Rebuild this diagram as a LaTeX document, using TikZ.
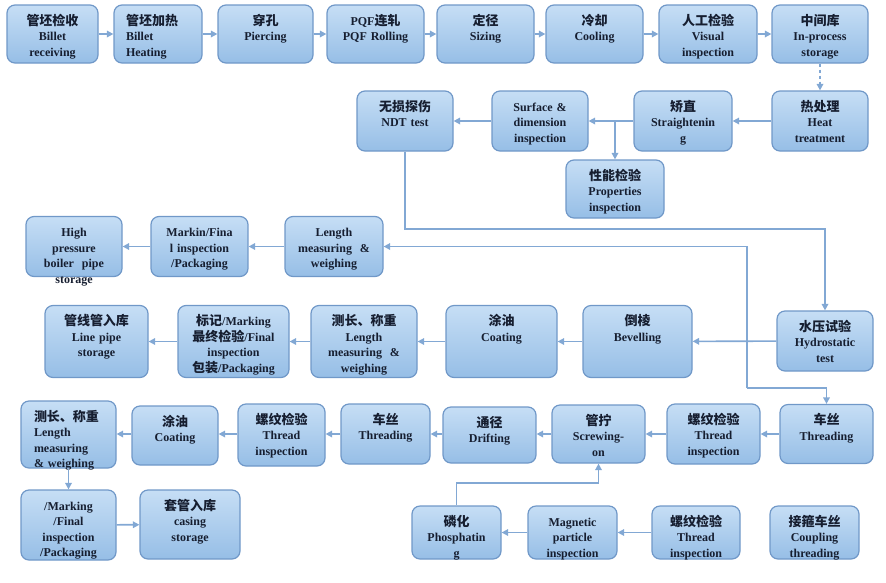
\documentclass[tikz,border=0pt]{standalone}
\usepackage{fontspec}
\setmainfont{Liberation Serif}
\newfontfamily\cjk{Noto Sans CJK SC}
\newcommand{\zh}[1]{{\cjk\fontsize{13}{15.5}\selectfont #1}}
\usetikzlibrary{arrows.meta}
\definecolor{boxtop}{RGB}{198,222,245}
\definecolor{boxbot}{RGB}{150,190,230}
\definecolor{boxline}{RGB}{112,152,200}
\definecolor{flowline}{RGB}{130,168,212}
\definecolor{boxtext}{RGB}{22,30,48}

\begin{document}
\begin{tikzpicture}[x=1pt, y=-1pt,
    stagebox/.style={draw=boxline, line width=1.2pt, rounded corners=8pt, top color=boxtop, bottom color=boxbot,
        inner sep=0pt, align=center, text=boxtext, text height=20pt, font=\fontsize{12}{15.5}\selectfont\bfseries},
    sz/.style 2 args={text width=#1pt, text depth=#2pt-20pt},
    flow/.style={draw=flowline, line width=1.6pt, -{Triangle[length=6.5pt,width=6.5pt]}}]
        \useasboundingbox (0,0) rectangle (886,582);

        \node[stagebox, sz={91}{58}] (br) at (52.5,34) {\zh{管坯检收}\\Billet\\receiving};
        \node[stagebox, align=left, inner xsep=12pt, sz={64}{58}] (bh) at (158,34) {\zh{管坯加热}\\Billet\\Heating};
        \node[stagebox, sz={95}{58}] (pc) at (265.5,34) {\zh{穿孔}\\Piercing};
        \node[stagebox, sz={97}{58}] (pqf) at (375.5,34) {PQF\zh{连轧}\\PQF Rolling};
        \node[stagebox, sz={97}{58}] (sz) at (485.5,34) {\zh{定径}\\Sizing};
        \node[stagebox, sz={97}{58}] (cl) at (594.5,34) {\zh{冷却}\\Cooling};
        \node[stagebox, sz={98}{58}] (vi) at (708,34) {\zh{人工检验}\\Visual\\inspection};
        \node[stagebox, sz={96}{58}] (ip) at (820,34) {\zh{中间库}\\In-process\\storage};

        \node[stagebox, sz={96}{60}] (ht) at (820,121) {\zh{热处理}\\Heat\\treatment};
        \node[stagebox, sz={98}{60}] (st) at (683,121) {\zh{矫直}\\Straightenin\\g};
        \node[stagebox, sz={96}{60}] (sd) at (540,121) {Surface \&\\dimension\\inspection};
        \node[stagebox, sz={96}{60}] (ndt) at (405,121) {\zh{无损探伤}\\NDT test};
        \node[stagebox, sz={98}{58}] (pr) at (615,189) {\zh{性能检验}\\Properties\\inspection};

        \node[stagebox, sz={98}{60}] (lm) at (334,246.5) {Length\\measuring \ \&\\weighing};
        \node[stagebox, sz={97}{60}] (mk) at (199.5,246.5) {Markin/Fina\\l inspection\\/Packaging};
        \node[stagebox, sz={96}{60}] (hp) at (74,246.5) {High\\pressure\\boiler \ pipe\\storage};

        \node[stagebox, sz={96}{60}] (hy) at (825,341) {\zh{水压试验}\\Hydrostatic\\test};
        \node[stagebox, sz={109}{72}] (bv) at (637.5,341.5) {\zh{倒棱}\\Bevelling};
        \node[stagebox, sz={111}{72}] (ct) at (501.5,341.5) {\zh{涂油}\\Coating};
        \node[stagebox, sz={106}{72}] (lm2) at (364,341.5) {\zh{测长、称重}\\Length\\measuring \ \&\\weighing};
        \node[stagebox, sz={111}{72}] (mf) at (233.5,341.5) {\zh{标记}/Marking\\\zh{最终检验}/Final\\inspection\\\zh{包装}/Packaging};
        \node[stagebox, sz={103}{72}] (lp) at (96.5,341.5) {\zh{管线管入库}\\Line pipe\\storage};

        \node[stagebox, sz={93}{59}] (th4) at (826.5,434) {\zh{车丝}\\Threading};
        \node[stagebox, sz={93}{60}] (ti4) at (713.5,434) {\zh{螺纹检验}\\Thread\\inspection};
        \node[stagebox, sz={93}{58}] (sc) at (598.5,434) {\zh{管拧}\\Screwing-\\on};
        \node[stagebox, sz={93}{56}] (dr) at (489.5,435) {\zh{通径}\\Drifting};
        \node[stagebox, sz={89}{60}] (th3) at (385.5,434) {\zh{车丝}\\Threading};
        \node[stagebox, sz={87}{62}] (ti3) at (281.5,435) {\zh{螺纹检验}\\Thread\\inspection};
        \node[stagebox, sz={86}{59}] (ct3) at (175,435.5) {\zh{涂油}\\Coating};
        \node[stagebox, align=left, inner xsep=13pt, sz={69}{67}] (lm3) at (68.5,434.5) {\zh{测长、称重}\\Length\\measuring\\\& weighing};

        \node[stagebox, sz={95}{70}] (mf3) at (68.5,525) {/Marking\\/Final\\inspection\\/Packaging};
        \node[stagebox, sz={100}{69}] (cs) at (190,524.5) {\zh{套管入库}\\casing\\storage};
        \node[stagebox, sz={89}{53}] (ph) at (456.5,532.5) {\zh{磷化}\\Phosphatin\\g};
        \node[stagebox, sz={89}{53}] (mp) at (572.5,532.5) {Magnetic\\particle\\inspection};
        \node[stagebox, sz={88}{53}] (ti5) at (696,532.5) {\zh{螺纹检验}\\Thread\\inspection};
        \node[stagebox, sz={89}{53}] (cp) at (814.5,532.5) {\zh{接箍车丝}\\Coupling\\threading};

        \coordinate (ndtturn) at (405,229);
        \coordinate (split) at (747,388);
        \coordinate (phturn) at (456.5,483);

        \draw[flow] (br) -- (bh);
        \draw[flow] (bh) -- (pc);
        \draw[flow] (pc) -- (pqf);
        \draw[flow] (pqf) -- (sz);
        \draw[flow] (sz) -- (cl);
        \draw[flow] (cl) -- (vi);
        \draw[flow] (vi) -- (ip);
        \draw[flow, dashed] (ip) -- (ht);

        \draw[flow] (ht) -- (st);
        \draw[flow] (st) -- (sd);
        \draw[flow] (sd) -- (ndt);
        \draw[flow] (pr.north |- st.west) -- (pr.north);
        \draw[flow] (ndt.south) -- (ndtturn) -| (hy.north);

        \draw[flow] (hy) -- (bv);
        \draw[flow] (bv) -- (ct);
        \draw[flow] (ct) -- (lm2);
        \draw[flow] (lm2) -- (mf);
        \draw[flow] (mf) -- (lp);

        \draw[flow] (split) |- (lm.east);
        \draw[flow] (split) -| (th4.north);
        \draw[flow] (lm) -- (mk);
        \draw[flow] (mk) -- (hp);

        \draw[flow] (th4.west) -- (ti4.east |- th4.west);
        \draw[flow] (ti4.west) -- (sc.east |- ti4.west);
        \draw[flow] (sc.west) -- (dr.east |- sc.west);
        \draw[flow] (dr.west |- th3.east) -- (th3.east);
        \draw[flow] (th3.west) -- (ti3.east |- th3.west);
        \draw[flow] (ti3.west |- th3.west) -- (ct3.east |- th3.west);
        \draw[flow] (ct3.west |- th3.west) -- (lm3.east |- th3.west);
        \draw[flow] (lm3) -- (mf3);
        \draw[flow] (mf3) -- (cs);

        \draw[flow] (ti5) -- (mp);
        \draw[flow] (mp) -- (ph);
        \draw[flow] (ph.north) -- (phturn) -| (sc.south);
\end{tikzpicture}
\end{document}
